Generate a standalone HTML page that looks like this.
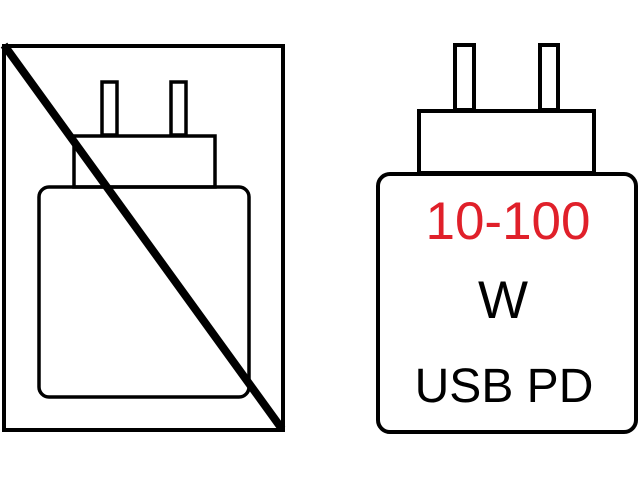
<!DOCTYPE html>
<html><head><style>html,body{margin:0;padding:0;background:#fff;}svg{display:block}</style></head>
<body>
<svg width="640" height="480" viewBox="0 0 640 480" xmlns="http://www.w3.org/2000/svg">
<rect width="640" height="480" fill="#fff"/>
<g fill="none" stroke="#000">
<rect x="4" y="46" width="279" height="384" stroke-width="4"/>
<rect x="102" y="82" width="15" height="53" stroke-width="3.5"/>
<rect x="171" y="82" width="15" height="53" stroke-width="3.5"/>
<rect x="74" y="136" width="141" height="51" stroke-width="3.5"/>
<rect x="39" y="187" width="210" height="210" rx="10" stroke-width="3.5"/>
<line x1="4" y1="45" x2="282" y2="429" stroke-width="8"/>
<rect x="455" y="45" width="19" height="65" stroke-width="4"/>
<rect x="540" y="45" width="18" height="65" stroke-width="4"/>
<rect x="419" y="111" width="175" height="62" stroke-width="4"/>
<rect x="378" y="174" width="258" height="258" rx="12" stroke-width="4"/>
</g>
<g font-family="Liberation Sans, sans-serif" text-anchor="middle">
<text x="508" y="239" font-size="53" fill="#e0202a">10-100</text>
<text x="503" y="318" font-size="53" fill="#000">W</text>
<text x="504" y="402" font-size="48" fill="#000">USB PD</text>
</g>
</svg>
</body></html>
